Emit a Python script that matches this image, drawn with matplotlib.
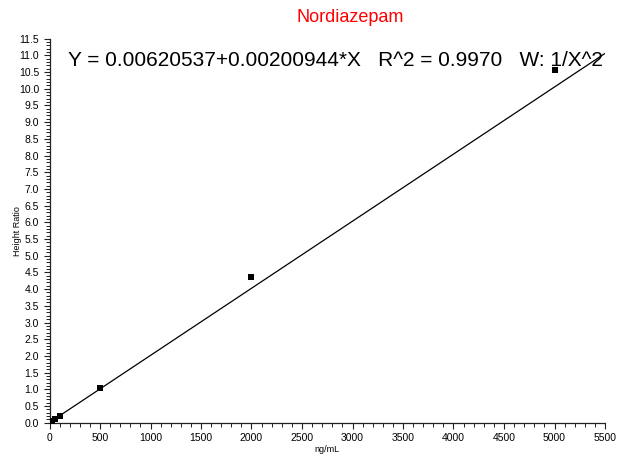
import numpy as np
import matplotlib
matplotlib.use("Agg")
import matplotlib.pyplot as plt
from matplotlib.ticker import MultipleLocator, FormatStrFormatter

# Calibration standards (concentration vs. height ratio)
conc = [10, 25, 50, 100, 500, 2000, 5000]
height_ratio = [0.03, 0.06, 0.11, 0.21, 1.03, 4.37, 10.57]

# Weighted linear fit reported by the quantitation software
intercept = 0.00620537
slope = 0.00200944
r_squared = 0.9970
fit_range = [0, 5500]

plt.rcParams['font.family'] = ['Liberation Sans', 'DejaVu Sans']

fig = plt.figure(figsize=(6.25, 4.55), dpi=100)
ax = fig.add_axes([0.0792, 0.071, 0.8888, 0.844])

xf = np.array(fit_range, dtype=float)
ax.plot(xf, intercept + slope * xf, color='black', lw=0.9, zorder=2)
ax.scatter(conc, height_ratio, marker='s', s=22, color='black', zorder=3, linewidths=0)

ax.set_xlim(0, 5500)
ax.set_ylim(0, 11.5)
ax.xaxis.set_major_locator(MultipleLocator(500))
ax.xaxis.set_minor_locator(MultipleLocator(100))
ax.yaxis.set_major_locator(MultipleLocator(0.5))
ax.yaxis.set_minor_locator(MultipleLocator(0.1))
ax.yaxis.set_major_formatter(FormatStrFormatter('%.1f'))

for side in ('top', 'right'):
    ax.spines[side].set_visible(False)
for side in ('left', 'bottom'):
    ax.spines[side].set_linewidth(0.9)
    ax.spines[side].set_color('#222222')

ax.tick_params(which='major', length=4.5, width=0.8, labelsize=7.5, pad=3, color='#222222')
ax.tick_params(which='minor', length=3, width=0.7, color='#222222')

ax.set_xlabel('ng/mL', fontsize=6.5, labelpad=1)
ax.set_ylabel('Height Ratio', fontsize=6.5, va='center')
ax.yaxis.set_label_coords(-0.057, 0.5)

fig.text(350 / 625, 1 - 18 / 455, 'Nordiazepam', color='red', fontsize=13,
         ha='center', va='center')
ax.text(68 / 625, 1 - 61 / 455,
        f'Y = {intercept:.8f}+{slope:.8f}*X   R^2 = {r_squared:.4f}   W: 1/X^2',
        transform=fig.transFigure, fontsize=15, ha='left', va='center')

fig.savefig('out.png', dpi=100)
